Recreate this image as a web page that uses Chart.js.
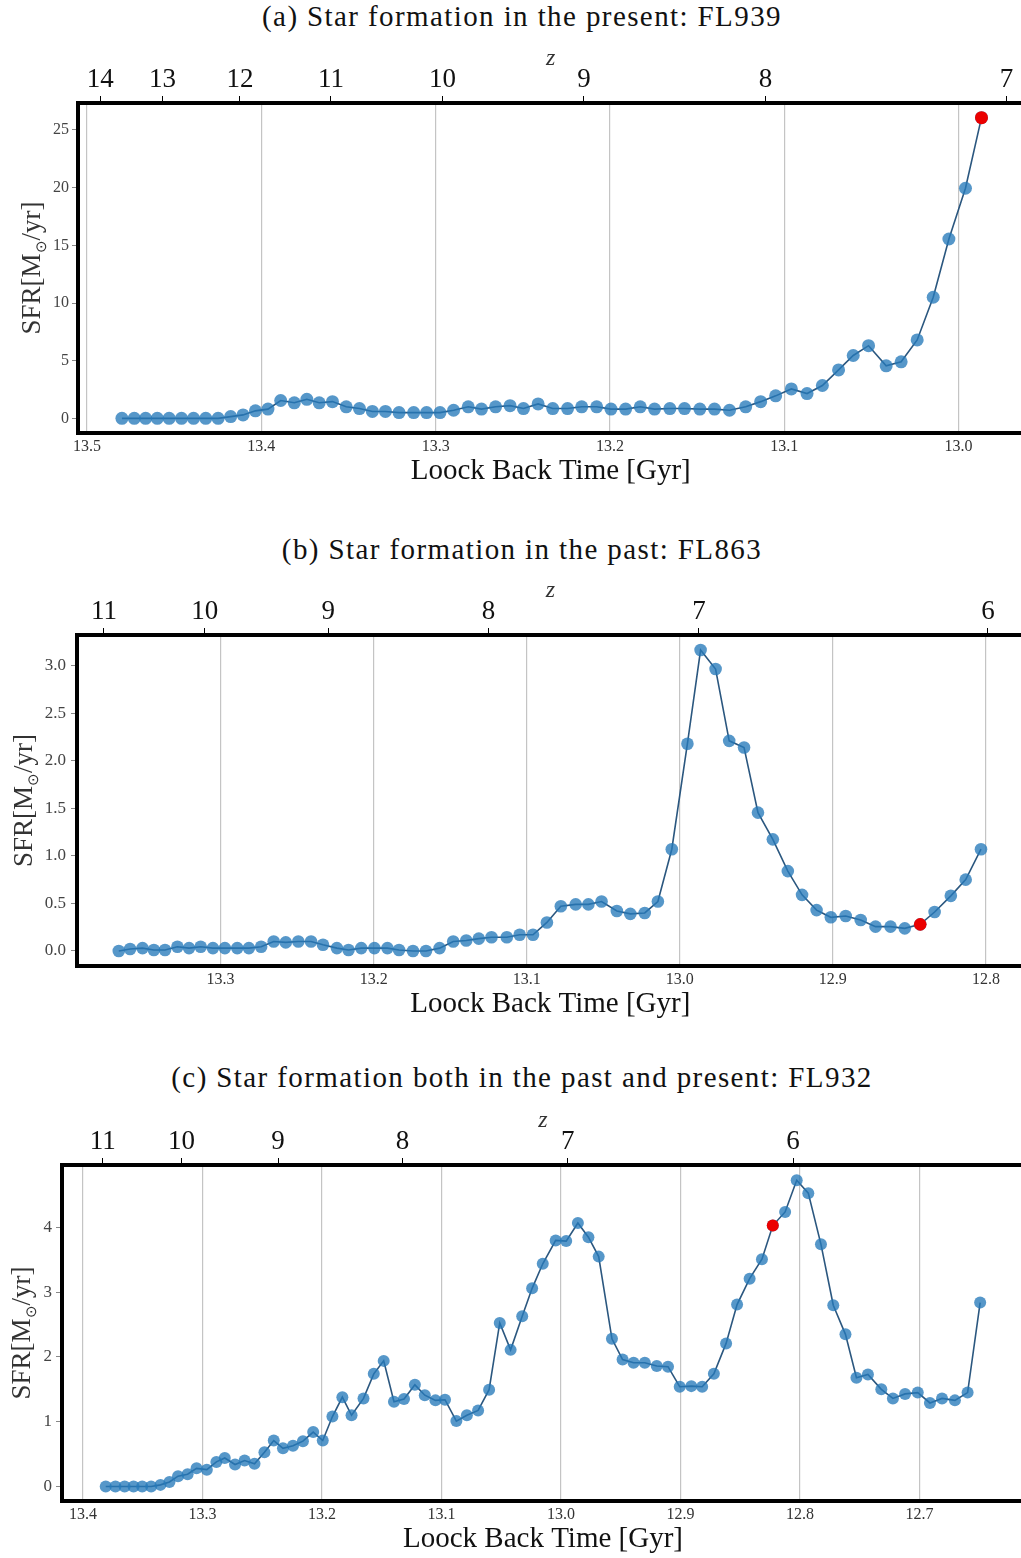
<!DOCTYPE html>
<html lang="en">
<head>
  <meta charset="UTF-8">
  <title>Star formation histories: FL939, FL863, FL932</title>
  <script src="https://cdn.jsdelivr.net/npm/chart.js"></script>
  <style>
    html, body {
      margin: 0;
      padding: 0;
      background: #fff;
      overflow: hidden;
    }
    #page {
      position: relative;
      width: 1021px;
      height: 1558px;
      overflow: hidden;
    }
    .ttl {
      position: absolute;
      left: 0;
      width: 1044px;
      height: 30px;
      line-height: 30px;
      text-align: center;
      font-family: 'Liberation Serif', 'Times New Roman', serif;
      font-size: 29px;
      letter-spacing: 1.4px;
      color: #111;
      white-space: nowrap;
    }
    canvas {
      position: absolute;
      left: 0;
    }
  </style>
</head>
<body>
<div id="page">
  <div class="ttl" style="top:1px">(a) Star formation in the present: FL939</div>
  <canvas id="chartA" width="1030" height="465" style="top:28px"></canvas>

  <div class="ttl" style="top:534px">(b) Star formation in the past: FL863</div>
  <canvas id="chartB" width="1030" height="466" style="top:560px"></canvas>

  <div class="ttl" style="top:1062px">(c) Star formation both in the past and present: FL932</div>
  <canvas id="chartC" width="1030" height="471" style="top:1090px"></canvas>
</div>

<script>
  // ---- FL939 ----
  const timesA = [13.4800, 13.4729, 13.4664, 13.4597, 13.4529, 13.4458, 13.4389, 13.4319, 13.4248, 13.4176,
                  13.4105, 13.4034, 13.3962, 13.3889, 13.3811, 13.3739, 13.3668, 13.3592, 13.3513, 13.3437,
                  13.3363, 13.3288, 13.3210, 13.3126, 13.3052, 13.2975, 13.2897, 13.2813, 13.2737, 13.2656,
                  13.2573, 13.2496, 13.2412, 13.2328, 13.2243, 13.2162, 13.2076, 13.1994, 13.1910, 13.1826,
                  13.1744, 13.1656, 13.1572, 13.1484, 13.1400, 13.1314, 13.1221, 13.1135, 13.1049, 13.0959,
                  13.0869, 13.0781, 13.0688, 13.0604, 13.0516, 13.0415, 13.0329, 13.0237, 13.0145, 13.0055,
                  12.9960, 12.9868];
  const sfrA = [0, 0, 0, 0, 0, 0, 0, 0, 0, 0.15,
                0.3, 0.65, 0.8, 1.55, 1.35, 1.65, 1.35, 1.45, 1.0, 0.85,
                0.6, 0.6, 0.5, 0.5, 0.5, 0.5, 0.7, 1.0, 0.8, 1.0,
                1.1, 0.85, 1.25, 0.85, 0.85, 1.0, 1.0, 0.8, 0.8, 1.0,
                0.8, 0.85, 0.85, 0.8, 0.8, 0.7, 1.0, 1.45, 1.95, 2.55,
                2.15, 2.85, 4.2, 5.45, 6.3, 4.55, 4.9, 6.8, 10.5, 15.55,
                19.95, 26.07];
  const nowA = 61;
  const tickTimesA = [13.5, 13.4, 13.3, 13.2, 13.1, 13.0];
  const sfrTicksA = [0, 5, 10, 15, 20, 25];
  const zLabelsA = [14, 13, 12, 11, 10, 9, 8, 7];
  const zTimesA = [13.4924, 13.4567, 13.4123, 13.3601, 13.2960, 13.2149, 13.1107, 12.9725];

  // ---- FL863 ----
  const timesB = [13.3665, 13.3591, 13.3510, 13.3436, 13.3363, 13.3282, 13.3206, 13.3130, 13.3050, 13.2972,
                  13.2891, 13.2815, 13.2735, 13.2653, 13.2574, 13.2492, 13.2409, 13.2331, 13.2240, 13.2164,
                  13.2081, 13.1995, 13.1910, 13.1834, 13.1743, 13.1658, 13.1569, 13.1480, 13.1395, 13.1313,
                  13.1230, 13.1130, 13.1046, 13.0959, 13.0868, 13.0777, 13.0680, 13.0597, 13.0511, 13.0411,
                  13.0323, 13.0229, 13.0143, 13.0052, 12.9950, 12.9864, 12.9766, 12.9677, 12.9580, 12.9489,
                  12.9392, 12.9294, 12.9201, 12.9106, 12.9013, 12.8916, 12.8818, 12.8721, 12.8623, 12.8530,
                  12.8429, 12.8335, 12.8229, 12.8132, 12.8032];
  const sfrB = [0, 0.02, 0.03, 0.01, 0.01, 0.045, 0.03, 0.045, 0.03, 0.03,
                0.03, 0.03, 0.045, 0.1, 0.09, 0.1, 0.1, 0.065, 0.03, 0.01,
                0.03, 0.03, 0.03, 0.01, 0, 0, 0.03, 0.1, 0.11, 0.13,
                0.145, 0.145, 0.17, 0.17, 0.3, 0.47, 0.49, 0.49, 0.52, 0.42,
                0.39, 0.40, 0.52, 1.07, 2.18, 3.165, 2.965, 2.21, 2.14, 1.455,
                1.174, 0.84, 0.59, 0.43, 0.354, 0.368, 0.326, 0.256, 0.256, 0.238,
                0.28, 0.41, 0.58, 0.75, 1.07];
  const nowB = 60;
  const tickTimesB = [13.3, 13.2, 13.1, 13.0, 12.9, 12.8];
  const sfrTicksB = [0, 0.5, 1.0, 1.5, 2.0, 2.5, 3.0];
  const zLabelsB = [11, 10, 9, 8, 7, 6];
  const zTimesB = [13.3762, 13.3104, 13.2297, 13.1249, 12.9875, 12.7987];

  // ---- FL932 ----
  const timesC = [13.3809, 13.3728, 13.3651, 13.3576, 13.3504, 13.3429, 13.3351, 13.3276, 13.3204, 13.3124,
                  13.3049, 13.2963, 13.2883, 13.2813, 13.2727, 13.2647, 13.2564, 13.2481, 13.2403, 13.2326,
                  13.2242, 13.2159, 13.2073, 13.1993, 13.1912, 13.1829, 13.1752, 13.1652, 13.1566, 13.1483,
                  13.1397, 13.1313, 13.1222, 13.1139, 13.1050, 13.0970, 13.0875, 13.0787, 13.0693, 13.0601,
                  13.0512, 13.0421, 13.0324, 13.0241, 13.0152, 13.0044, 12.9956, 12.9858, 12.9770, 12.9684,
                  12.9573, 12.9484, 12.9392, 12.9298, 12.9198, 12.9104, 12.9006, 12.8909, 12.8818, 12.8720,
                  12.8618, 12.8526, 12.8421, 12.8318, 12.8227, 12.8124, 12.8027, 12.7930, 12.7824, 12.7721,
                  12.7619, 12.7527, 12.7431, 12.7319, 12.7222, 12.7120, 12.7014, 12.6912, 12.6811, 12.6703,
                  12.6597, 12.6492];
  const sfrC = [0, 0, 0, 0, 0, 0, 0.025, 0.07, 0.16, 0.19,
                0.28, 0.26, 0.38, 0.44, 0.34, 0.40, 0.35, 0.53, 0.71, 0.59,
                0.63, 0.70, 0.84, 0.71, 1.08, 1.38, 1.10, 1.36, 1.74, 1.94,
                1.31, 1.35, 1.57, 1.41, 1.33, 1.34, 1.01, 1.10, 1.175, 1.495,
                2.525, 2.11, 2.63, 3.06, 3.44, 3.80, 3.79, 4.07, 3.85, 3.55,
                2.28, 1.96, 1.91, 1.91, 1.86, 1.85, 1.54, 1.55, 1.54, 1.74,
                2.21, 2.81, 3.21, 3.51, 4.03, 4.24, 4.73, 4.53, 3.74, 2.80,
                2.35, 1.68, 1.73, 1.50, 1.36, 1.43, 1.45, 1.29, 1.36, 1.33,
                1.45, 2.84];
  const nowC = 64;
  const tickTimesC = [13.4, 13.3, 13.2, 13.1, 13.0, 12.9, 12.8, 12.7];
  const sfrTicksC = [0, 1, 2, 3, 4];
  const zLabelsC = [11, 10, 9, 8, 7, 6];
  const zTimesC = [13.3833, 13.3175, 13.2367, 13.1325, 12.9942, 12.8058];

  const SERIF = "'Liberation Serif', 'Times New Roman', serif";
  const LINE = 'rgba(32, 78, 120, 0.95)';
  const DOT = 'rgba(38, 122, 186, 0.78)';
  const NOW = 'rgb(235, 0, 0)';

  // thick black box round the plot area
  const framePlugin = {
    id: 'frame',
    afterDraw(chart) {
      const a = chart.chartArea, c = chart.ctx;
      c.save();
      c.strokeStyle = '#000';
      c.lineWidth = 4;
      c.strokeRect(a.left, a.top, a.right - a.left, a.bottom - a.top);
      c.restore();
    }
  };

  // y title with a subscript sun symbol: SFR[M_sun/yr]
  const sfrLabelPlugin = {
    id: 'sfrLabel',
    afterDraw(chart, args, opts) {
      const a = chart.chartArea, c = chart.ctx;
      const big = `27px ${SERIF}`, small = `15px ${SERIF}`;
      const parts = [['SFR[M', big, 0], ['\u2299', small, 6], ['/yr]', big, 0]];
      c.save();
      c.translate(opts.x, (a.top + a.bottom) / 2);
      c.rotate(-Math.PI / 2);
      c.fillStyle = '#333';
      c.textBaseline = 'alphabetic';
      let w = 0;
      parts.forEach(([t, f]) => { c.font = f; w += c.measureText(t).width; });
      let x = -w / 2;
      parts.forEach(([t, f, dy]) => {
        c.font = f;
        c.fillText(t, x, 9 + dy);
        x += c.measureText(t).width;
      });
      c.restore();
    }
  };

  // pin an axis to a fixed size so every panel lines up
  function fixSize(scale, key, px) {
    scale[key] = px;
    scale.paddingLeft = scale.paddingRight = scale.paddingTop = scale.paddingBottom = 0;
  }

  function makePanel(id, p) {
    const pts = p.times.map((t, i) => ({ x: t, y: p.sfr[i] }));
    return new Chart(document.getElementById(id), {
      type: 'line',
      data: {
        datasets: [
          {
            data: pts,
            borderColor: LINE,
            borderWidth: 1.6,
            pointRadius: p.dot,
            pointBackgroundColor: DOT,
            pointBorderWidth: 0,
            tension: 0,
            order: 1
          },
          {
            data: [pts[p.now]],
            showLine: false,
            pointRadius: p.dot,
            pointBackgroundColor: NOW,
            pointBorderWidth: 0,
            order: 0
          }
        ]
      },
      options: {
        responsive: false,
        animation: false,
        events: [],
        layout: { padding: { left: 0, top: 0, bottom: 0, right: 1030 - p.right } },
        plugins: {
          legend: { display: false },
          tooltip: { enabled: false },
          sfrLabel: { x: p.yTitleX }
        },
        scales: {
          x: {
            type: 'linear',
            position: 'bottom',
            reverse: true,
            min: p.tMin,
            max: p.tMax,
            afterBuildTicks: s => { s.ticks = p.tTicks.map(v => ({ value: v })); },
            afterFit: s => fixSize(s, 'height', 60),
            ticks: {
              autoSkip: false,
              maxRotation: 0,
              padding: 6,
              color: '#333',
              font: { family: SERIF, size: 16, lineHeight: 1 },
              callback: v => v.toFixed(1)
            },
            grid: { color: '#c4c4c4', lineWidth: 1.2, drawTicks: false },
            border: { display: false },
            title: {
              display: true,
              text: 'Loock Back Time [Gyr]',
              color: '#111',
              font: { family: SERIF, size: 29, lineHeight: 1 },
              padding: { top: 0, bottom: 7.5 }
            }
          },
          z: {
            type: 'linear',
            position: 'top',
            reverse: true,
            min: p.tMin,
            max: p.tMax,
            afterBuildTicks: s => { s.ticks = p.zTimes.map(v => ({ value: v })); },
            afterFit: s => fixSize(s, 'height', 75),
            ticks: {
              autoSkip: false,
              maxRotation: 0,
              padding: 2.5,
              color: '#111',
              font: { family: SERIF, size: 27, lineHeight: 1 },
              callback: (v, i) => String(p.zLabels[i])
            },
            grid: { drawOnChartArea: false, drawTicks: true, tickLength: 7, color: '#000', lineWidth: 1 },
            border: { display: false },
            title: {
              display: true,
              text: 'z',
              color: '#333',
              font: { family: SERIF, size: 24, style: 'italic', lineHeight: 1 },
              padding: { top: 19, bottom: 0 }
            }
          },
          y: {
            type: 'linear',
            position: 'left',
            min: p.yMin,
            max: p.yMax,
            afterBuildTicks: s => { s.ticks = p.yTicks.map(v => ({ value: v })); },
            afterFit: s => fixSize(s, 'width', p.left),
            ticks: {
              padding: p.yPad,
              color: '#444',
              font: { family: SERIF, size: p.yFont, lineHeight: 1 },
              callback: v => v.toFixed(p.yDec)
            },
            grid: { drawOnChartArea: false, drawTicks: true, tickLength: 6, color: '#888', lineWidth: 1 },
            border: { display: false }
          }
        }
      },
      plugins: [framePlugin, sfrLabelPlugin]
    });
  }

  makePanel('chartA', {
    times: timesA, sfr: sfrA, now: nowA, dot: 6.5,
    tTicks: tickTimesA, zTimes: zTimesA, zLabels: zLabelsA,
    tMin: 12.9627, tMax: 13.5052, yMin: -1.27, yMax: 27.34,
    yTicks: sfrTicksA, yDec: 0, yFont: 16, yPad: 3, yTitleX: 31,
    left: 78, right: 1024
  });

  makePanel('chartB', {
    times: timesB, sfr: sfrB, now: nowB, dot: 6.3,
    tTicks: tickTimesB, zTimes: zTimesB, zLabels: zLabelsB,
    tMin: 12.7753, tMax: 13.3938, yMin: -0.158, yMax: 3.323,
    yTicks: sfrTicksB, yDec: 1, yFont: 17, yPad: 5, yTitleX: 23,
    left: 77, right: 1027
  });

  makePanel('chartC', {
    times: timesC, sfr: sfrC, now: nowC, dot: 6,
    tTicks: tickTimesC, zTimes: zTimesC, zLabels: zLabelsC,
    tMin: 12.6125, tMax: 13.4175, yMin: -0.224, yMax: 4.965,
    yTicks: sfrTicksC, yDec: 0, yFont: 17, yPad: 4, yTitleX: 21,
    left: 62, right: 1028
  });
</script>
</body>
</html>
